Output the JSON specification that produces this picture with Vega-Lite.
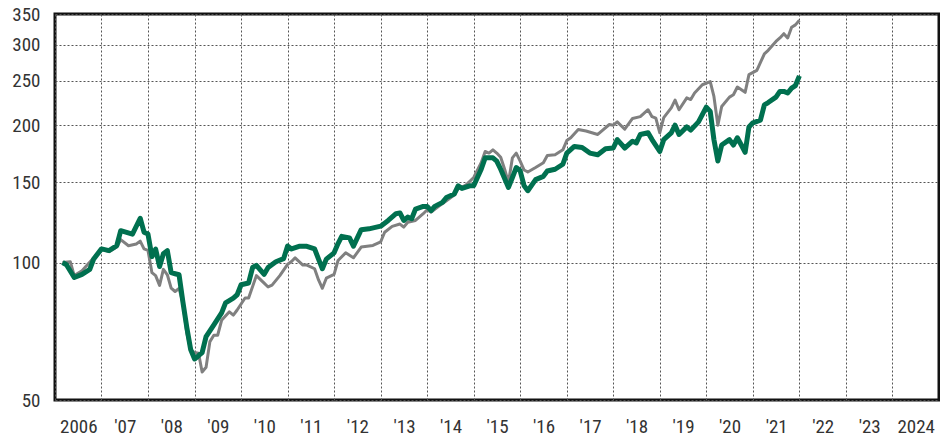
{
"$schema":"https://vega.github.io/schema/vega-lite/v6.json",
"width":884,"height":386,
"autosize":{"type":"none"},
"padding":{"left":55,"top":14,"right":1,"bottom":36},
"background":"white",
"config":{"view":{"stroke":"#111111","strokeWidth":3},"font":"Liberation Sans Narrow, Roboto Condensed, DejaVu Sans Condensed, Arial Narrow, sans-serif"},
"datasets":{
"fund":[
{"date":"2006-03","value":100},{"date":"2006-04","value":98.9},{"date":"2006-06","value":92.7},{"date":"2006-08","value":94.2},{"date":"2006-10","value":96.6},{"date":"2006-11","value":101.8},
{"date":"2007-01","value":107.1},{"date":"2007-03","value":106.2},{"date":"2007-05","value":108.9},{"date":"2007-06","value":117.4},{"date":"2007-09","value":115.4},{"date":"2007-11","value":125},{"date":"2007-12","value":116.5},
{"date":"2008-01","value":115.4},{"date":"2008-02","value":103},{"date":"2008-03","value":107},{"date":"2008-04","value":98},{"date":"2008-05","value":104.5},{"date":"2008-06","value":106.2},{"date":"2008-07","value":95},{"date":"2008-08","value":94.5},{"date":"2008-09","value":94},{"date":"2008-10","value":82},{"date":"2008-11","value":72},{"date":"2008-12","value":64.5},
{"date":"2009-01","value":61.5},{"date":"2009-02","value":62.5},{"date":"2009-03","value":63.5},{"date":"2009-04","value":68.8},{"date":"2009-06","value":73},{"date":"2009-08","value":77.6},{"date":"2009-09","value":81.6},{"date":"2009-11","value":83.6},{"date":"2009-12","value":85},
{"date":"2010-01","value":89.4},{"date":"2010-03","value":90.2},{"date":"2010-04","value":97.5},{"date":"2010-05","value":98.6},{"date":"2010-07","value":94.2},{"date":"2010-08","value":97.5},{"date":"2010-10","value":100.4},{"date":"2010-12","value":102},
{"date":"2011-01","value":108.7},{"date":"2011-02","value":107.1},{"date":"2011-04","value":108.5},{"date":"2011-06","value":108.5},{"date":"2011-08","value":107.1},{"date":"2011-09","value":101.7},{"date":"2011-10","value":96.9},{"date":"2011-11","value":101.7},
{"date":"2012-01","value":105},{"date":"2012-02","value":110},{"date":"2012-03","value":114.1},{"date":"2012-05","value":113.2},{"date":"2012-06","value":108.6},{"date":"2012-08","value":118},{"date":"2012-10","value":118.5},
{"date":"2013-01","value":120.1},{"date":"2013-03","value":123.6},{"date":"2013-05","value":127.9},{"date":"2013-06","value":128.4},{"date":"2013-07","value":123.6},{"date":"2013-08","value":125.7},{"date":"2013-09","value":124.7},{"date":"2013-10","value":130.9},{"date":"2013-12","value":132.7},
{"date":"2014-01","value":132.7},{"date":"2014-02","value":129.9},{"date":"2014-03","value":132.7},{"date":"2014-05","value":135.4},{"date":"2014-06","value":138.8},{"date":"2014-08","value":141.2},{"date":"2014-09","value":147.2},{"date":"2014-10","value":145.3},{"date":"2014-12","value":147.2},
{"date":"2015-01","value":147.2},{"date":"2015-03","value":160},{"date":"2015-04","value":169.5},{"date":"2015-06","value":169.5},{"date":"2015-07","value":166.7},{"date":"2015-08","value":160},{"date":"2015-10","value":146},{"date":"2015-11","value":153.5},{"date":"2015-12","value":161.4},
{"date":"2016-01","value":158.8},{"date":"2016-02","value":147.2},{"date":"2016-03","value":143.6},{"date":"2016-05","value":151.9},{"date":"2016-07","value":154.4},{"date":"2016-08","value":158.6},{"date":"2016-10","value":160},{"date":"2016-12","value":164.1},
{"date":"2017-01","value":173.6},{"date":"2017-03","value":179.5},{"date":"2017-05","value":178.6},{"date":"2017-07","value":173.6},{"date":"2017-09","value":172.2},{"date":"2017-11","value":177.5},
{"date":"2018-01","value":178.1},{"date":"2018-02","value":185.8},{"date":"2018-04","value":178.1},{"date":"2018-06","value":184.3},{"date":"2018-07","value":182.8},{"date":"2018-08","value":190.7},{"date":"2018-10","value":192.3},{"date":"2018-11","value":185.8},
{"date":"2019-01","value":175},{"date":"2019-02","value":185.8},{"date":"2019-04","value":192.3},{"date":"2019-05","value":199.8},{"date":"2019-06","value":190.7},{"date":"2019-08","value":198.1},{"date":"2019-09","value":194.9},{"date":"2019-11","value":203.2},
{"date":"2020-01","value":218.9},{"date":"2020-02","value":214.2},{"date":"2020-03","value":185.8},{"date":"2020-04","value":166.8},{"date":"2020-05","value":180.8},{"date":"2020-07","value":185.8},{"date":"2020-08","value":180.8},{"date":"2020-09","value":187.5},{"date":"2020-10","value":181},{"date":"2020-11","value":174.2},{"date":"2020-12","value":198.1},
{"date":"2021-01","value":202.2},{"date":"2021-03","value":205},{"date":"2021-04","value":221.4},{"date":"2021-05","value":224},{"date":"2021-07","value":230.2},{"date":"2021-08","value":236.9},{"date":"2021-09","value":236.9},{"date":"2021-10","value":235},{"date":"2021-11","value":240.9},{"date":"2021-12","value":244},
{"date":"2022-01","value":256.2}
],
"benchmark":[
{"date":"2006-03","value":100},{"date":"2006-05","value":100.4},{"date":"2006-06","value":93.6},{"date":"2006-08","value":95.9},{"date":"2006-11","value":102.4},
{"date":"2007-01","value":107.1},{"date":"2007-03","value":105.6},{"date":"2007-05","value":108.1},{"date":"2007-06","value":112.2},{"date":"2007-08","value":108.8},{"date":"2007-10","value":109.8},{"date":"2007-11","value":111.4},{"date":"2007-12","value":107.1},
{"date":"2008-01","value":106.3},{"date":"2008-02","value":95},{"date":"2008-03","value":93.6},{"date":"2008-04","value":89.1},{"date":"2008-05","value":96.6},{"date":"2008-06","value":94},{"date":"2008-07","value":87.9},{"date":"2008-08","value":86.4},{"date":"2008-09","value":87.8},{"date":"2008-10","value":81.5},{"date":"2008-11","value":70},{"date":"2008-12","value":64.3},
{"date":"2009-01","value":63.5},{"date":"2009-02","value":63.3},{"date":"2009-03","value":57.6},{"date":"2009-04","value":59},{"date":"2009-05","value":67.1},{"date":"2009-06","value":69.3},{"date":"2009-07","value":69.3},{"date":"2009-08","value":74.7},{"date":"2009-10","value":78},{"date":"2009-11","value":76.7},{"date":"2009-12","value":78.7},
{"date":"2010-02","value":83.6},{"date":"2010-03","value":83.6},{"date":"2010-05","value":93.6},{"date":"2010-07","value":90.1},{"date":"2010-08","value":88.4},{"date":"2010-09","value":89.2},{"date":"2010-11","value":93.6},
{"date":"2011-01","value":99.1},{"date":"2011-02","value":100.5},{"date":"2011-03","value":102.4},{"date":"2011-05","value":98.7},{"date":"2011-06","value":98.7},{"date":"2011-08","value":96.9},{"date":"2011-09","value":91.6},{"date":"2011-10","value":87.8},{"date":"2011-11","value":92.4},
{"date":"2012-01","value":94.2},{"date":"2012-02","value":101},{"date":"2012-04","value":105},{"date":"2012-06","value":102.4},{"date":"2012-08","value":108.1},{"date":"2012-10","value":108.7},{"date":"2012-11","value":109},
{"date":"2013-01","value":111},{"date":"2013-02","value":116.5},{"date":"2013-04","value":120},{"date":"2013-06","value":121.4},{"date":"2013-07","value":119.5},{"date":"2013-08","value":122.5},{"date":"2013-10","value":123.6},{"date":"2013-12","value":127.9},
{"date":"2014-01","value":130.5},{"date":"2014-02","value":128.9},{"date":"2014-04","value":132.7},{"date":"2014-06","value":136.5},{"date":"2014-08","value":140.5},{"date":"2014-09","value":145},{"date":"2014-11","value":147.7},
{"date":"2015-01","value":153.5},{"date":"2015-03","value":165.3},{"date":"2015-04","value":175},{"date":"2015-05","value":173.6},{"date":"2015-06","value":176.5},{"date":"2015-07","value":173.6},{"date":"2015-08","value":170},{"date":"2015-09","value":160},{"date":"2015-10","value":149.6},{"date":"2015-11","value":169.5},{"date":"2015-12","value":173.6},
{"date":"2016-01","value":166.7},{"date":"2016-02","value":159.4},{"date":"2016-03","value":157.8},{"date":"2016-05","value":161.4},{"date":"2016-07","value":165.3},{"date":"2016-08","value":171.5},{"date":"2016-10","value":172.2},{"date":"2016-12","value":176.5},
{"date":"2017-01","value":185},{"date":"2017-02","value":187.5},{"date":"2017-04","value":195.6},{"date":"2017-06","value":194},{"date":"2017-09","value":190.7},{"date":"2017-10","value":194},{"date":"2017-12","value":200.5},
{"date":"2018-01","value":199.8},{"date":"2018-02","value":203.2},{"date":"2018-04","value":195.8},{"date":"2018-06","value":206.7},{"date":"2018-08","value":208.6},{"date":"2018-10","value":216},{"date":"2018-11","value":208.6},{"date":"2018-12","value":207},
{"date":"2019-01","value":192.3},{"date":"2019-02","value":207.5},{"date":"2019-04","value":218},{"date":"2019-05","value":226.8},{"date":"2019-06","value":216},{"date":"2019-08","value":229.3},{"date":"2019-09","value":227.4},{"date":"2019-10","value":235},{"date":"2019-12","value":245},
{"date":"2020-02","value":249},{"date":"2020-03","value":231},{"date":"2020-04","value":199.8},{"date":"2020-05","value":219.5},{"date":"2020-07","value":230.2},{"date":"2020-08","value":232.9},{"date":"2020-09","value":242.2},{"date":"2020-11","value":235.8},{"date":"2020-12","value":257.9},
{"date":"2021-02","value":263.4},{"date":"2021-04","value":286.4},{"date":"2021-05","value":291.4},{"date":"2021-07","value":304.8},{"date":"2021-08","value":310.2},{"date":"2021-09","value":317},{"date":"2021-10","value":310.2},{"date":"2021-11","value":327.5},{"date":"2021-12","value":331.3},
{"date":"2022-01","value":339}
]
},
"encoding":{
"x":{"field":"date","type":"temporal","title":null,
 "scale":{"type":"utc","domain":[{"year":2006,"month":1,"date":1,"utc":true},{"year":2025,"month":1,"date":1,"utc":true}]},
 "axis":{"values":[{"year":2006,"utc":true},{"year":2007,"utc":true},{"year":2008,"utc":true},{"year":2009,"utc":true},{"year":2010,"utc":true},{"year":2011,"utc":true},{"year":2012,"utc":true},{"year":2013,"utc":true},{"year":2014,"utc":true},{"year":2015,"utc":true},{"year":2016,"utc":true},{"year":2017,"utc":true},{"year":2018,"utc":true},{"year":2019,"utc":true},{"year":2020,"utc":true},{"year":2021,"utc":true},{"year":2022,"utc":true},{"year":2023,"utc":true},{"year":2024,"utc":true}],
  "labelExpr":"(utcFormat(datum.value,'%Y')=='2006'||utcFormat(datum.value,'%Y')=='2024') ? utcFormat(datum.value,'%Y') : \"'\"+utcFormat(datum.value,'%y')",
  "labelOffset":23.3,"labelAlign":"center","labelBaseline":"middle","labelPadding":26,"labelFlush":false,"labelOverlap":false,
  "labelFontSize":19,"labelColor":"#333333","ticks":false,"domain":false,
  "grid":true,"gridColor":"#555555","gridDash":[2,2],"gridWidth":1}},
"y":{"field":"value","type":"quantitative","title":null,
 "scale":{"type":"log","domain":[50,350],"nice":false},
 "axis":{"values":[50,100,150,200,250,300,350],"format":"d","labelPadding":15,"labelFontSize":19,"labelColor":"#333333","labelFlush":false,"labelOverlap":false,"ticks":false,"domain":false,
  "grid":true,"gridColor":"#555555","gridDash":[2,2],"gridWidth":1}}
},
"layer":[
{"data":{"name":"benchmark"},"mark":{"type":"line","color":"#808080","strokeWidth":3,"strokeJoin":"round"}},
{"data":{"name":"fund"},"mark":{"type":"line","color":"#00704f","strokeWidth":5,"strokeJoin":"round"}}
]
}
